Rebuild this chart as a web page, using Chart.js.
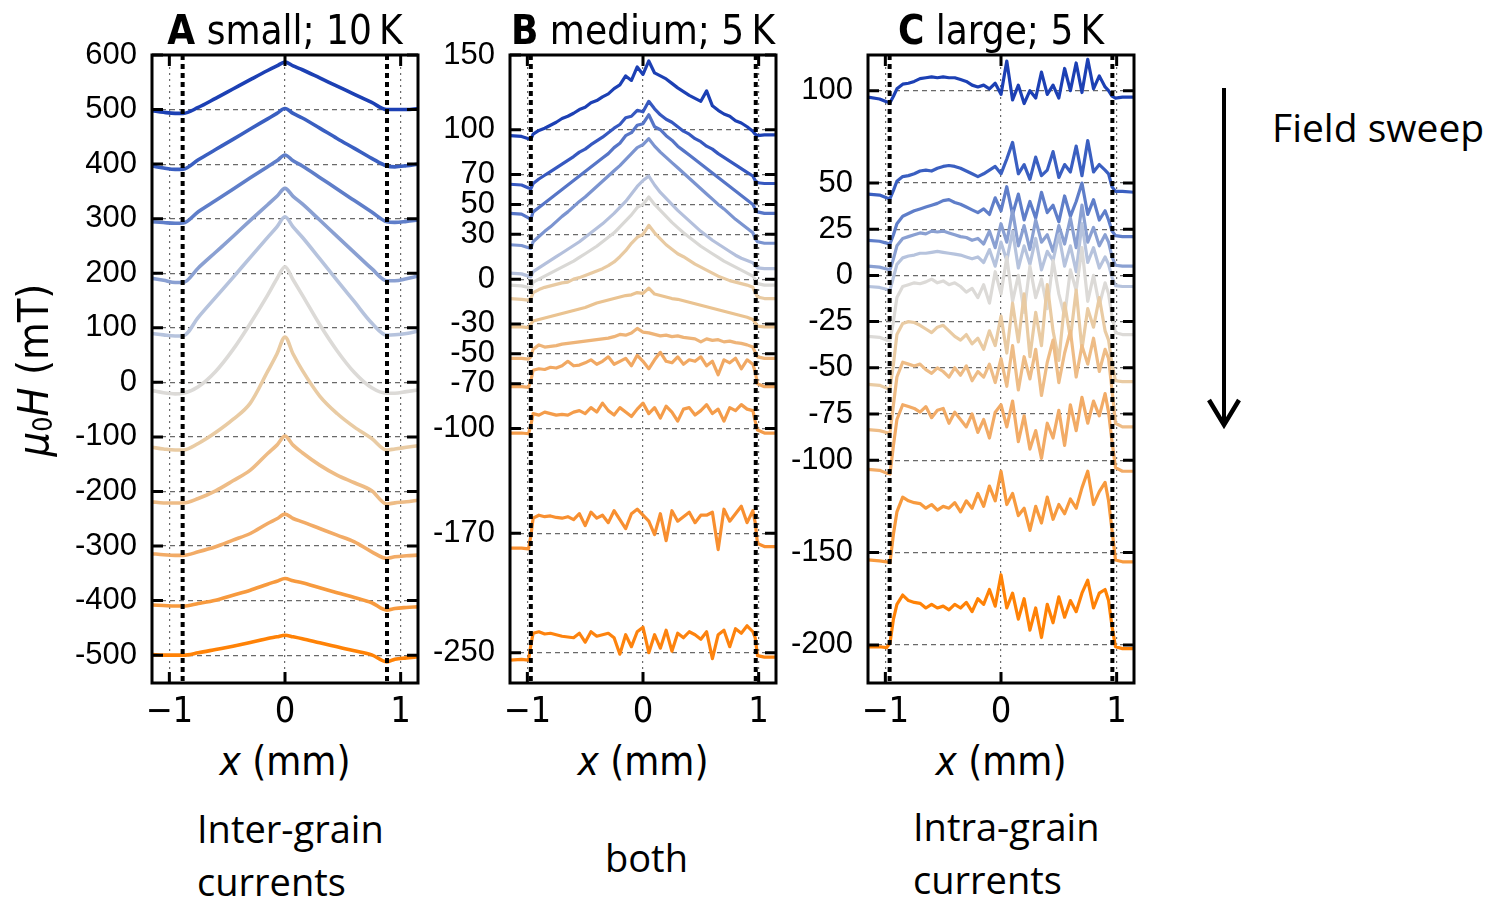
<!DOCTYPE html>
<html lang="en">
<head>
<meta charset="utf-8">
<title>Field profiles across the sample</title>
<script src="https://cdn.jsdelivr.net/npm/chart.js@4.4.1/dist/chart.umd.min.js"></script>
<style>
  html, body { margin: 0; padding: 0; background: #fff; }
  body { position: relative; width: 1497px; height: 906px; overflow: hidden; }
  canvas { position: absolute; }
  .t { position: absolute; white-space: nowrap; color: #000; }
  .cm { font-family: 'DejaVu Sans Condensed', 'Liberation Sans Narrow', 'DejaVu Sans', sans-serif; }
  .ttl { font-size: 40px; line-height: 40px; top: 10px; width: 320px; text-align: center; }
  .xl { font-size: 40px; line-height: 40px; top: 741px; width: 320px; text-align: center; }
  .note { font-family: 'Open Sans', sans-serif; font-size: 38px; line-height: 53px; }
  #ylab { left: 38px; top: 370px; font-size: 43px; line-height: 43px; transform: translate(-50%, -50%) rotate(-90deg); }
  #ylab sub { font-size: 0.62em; vertical-align: -0.18em; font-style: normal; }
</style>
</head>
<body>

<canvas id="pA" width="380" height="718" style="left:52px;top:15px"></canvas>
<canvas id="pB" width="380" height="718" style="left:410px;top:15px"></canvas>
<canvas id="pC" width="380" height="718" style="left:768px;top:15px"></canvas>

<div class="t cm ttl" style="left:125px"><b>A</b> small; 10&thinsp;K</div>
<div class="t cm ttl" style="left:483px"><b>B</b> medium; 5&thinsp;K</div>
<div class="t cm ttl" style="left:841px"><b>C</b> large; 5&thinsp;K</div>

<div class="t cm xl" style="left:125px"><i>x</i> (mm)</div>
<div class="t cm xl" style="left:483px"><i>x</i> (mm)</div>
<div class="t cm xl" style="left:841px"><i>x</i> (mm)</div>

<div class="t cm" id="ylab"><i>μ</i><sub>0</sub><i>H</i> (mT)</div>

<div class="t note" style="left:197px;top:802px">Inter-grain<br>currents</div>
<div class="t note" style="left:605px;top:831px">both</div>
<div class="t note" style="left:913px;top:800px">Intra-grain<br>currents</div>
<div class="t note" style="left:1272px;top:100px;font-size:39px">Field sweep</div>

<svg class="t" style="left:0;top:0" width="1497" height="906">
  <line x1="1224" y1="88" x2="1224" y2="424" stroke="#000" stroke-width="4"/>
  <polyline points="1209,400 1224,425 1239,400" fill="none" stroke="#000" stroke-width="4.5" stroke-linejoin="miter"/>
</svg>

<script>
// ---------- shared axis ticks ----------
const xTicks = [-1, 0, 1];

// ---------- panel A: small grains, 10 K ----------
const xA = [-1.15, -1.05, -0.95, -0.88, -0.75, -0.6, -0.45, -0.3, -0.15, -0.07, 0, 0.07, 0.15, 0.3, 0.45, 0.6, 0.75, 0.88, 0.95, 1.05, 1.15];
const yTicksA = [600, 500, 400, 300, 200, 100, 0, -100, -200, -300, -400, -500];
const a500  = [498, 495, 493, 493, 504, 520.6, 537.7, 554.8, 571.6, 580, 587, 580, 573, 558, 543, 528, 513, 500, 500, 500, 502];
const a400  = [396.5, 393, 390.4, 390.8, 408, 426.7, 445.4, 464.3, 483, 493, 502, 493, 484.5, 466, 447, 428.9, 410.6, 396.5, 395, 397, 400];
const a300  = [294.5, 293, 291.5, 292, 312.8, 333.3, 353.8, 374.8, 395.3, 406, 416.7, 406, 396.5, 375.7, 354.3, 333.2, 312.2, 294.5, 293.2, 295, 297.5];
const a200  = [190.6, 187, 183, 183, 209.7, 238.5, 267.4, 296.9, 325.6, 341, 355.6, 341, 327.1, 297.5, 267.6, 237.9, 208.3, 186.3, 186.3, 190, 194.8];
const a100  = [89.7, 87, 85, 85.4, 119.2, 155.7, 192, 229.2, 265.7, 285, 303.6, 285, 266, 226.7, 186.9, 147.8, 108.7, 86.7, 87.3, 89.7, 94];
const a0    = [-15, -19, -21, -20, -8, 20, 60, 108, 160, 190, 212, 188, 160, 106, 58, 18, -10, -20, -20, -17, -14];
const aM100 = [-119, -122, -124, -124, -112, -92, -68, -38, 20, 52, 83, 52, 22, -25, -57, -82, -103, -124, -122, -119, -116];
const aM200 = [-219, -221, -221, -221, -212.8, -198.8, -180.4, -160.9, -130.3, -115, -98.5, -115, -129, -151.7, -170, -184, -198.8, -223, -220.8, -218.9, -215.9];
const aM300 = [-314, -316, -317, -317, -310.6, -301.4, -289.2, -277, -258.6, -250, -241.5, -249.5, -255.6, -267.8, -280, -292.3, -310.6, -322.8, -319.7, -317.9, -316.7];
const aM400 = [-408, -409, -410, -410, -405.3, -399.2, -390, -380.9, -369.9, -364.4, -359.5, -363.8, -367.4, -376.6, -385.7, -394.3, -404, -417.5, -414.5, -412.6, -411.4];
const aM500 = [-499, -500, -500, -500, -495.7, -489.6, -483.5, -476.8, -469.5, -466.4, -463.4, -466.4, -470, -477.4, -484.7, -492, -499.4, -512.3, -507.4, -505, -503];
const edgesA = [-0.885, 0.882];

// ---------- panel B: medium grains, 5 K ----------
const xB = [-1.15, -1.05, -0.99, -0.97,
  -0.95, -0.9, -0.85, -0.8, -0.75, -0.7, -0.65, -0.6, -0.55, -0.5, -0.45, -0.4, -0.35, -0.3, -0.25, -0.2, -0.15, -0.1, -0.05,
  0, 0.05, 0.1, 0.15, 0.2, 0.25, 0.3, 0.35, 0.4, 0.45, 0.5, 0.55, 0.6, 0.65, 0.7, 0.75, 0.8, 0.85, 0.9, 0.95,
  0.97, 0.99, 1.05, 1.15];
const yTicksB = [150, 100, 70, 50, 30, 0, -30, -50, -70, -100, -170, -250];
const b100 = [96, 95.5, 94, 93.5,
  97, 99.5, 101, 103, 105, 107.5, 109, 111, 113.5, 115, 118, 119.5, 122, 124, 127.5, 130, 136, 133, 142,
  137, 146, 138, 136, 134, 131, 128, 125.5, 123, 121, 119, 126, 116, 113, 110.5, 109, 106, 104.5, 102, 99,
  97, 96, 96.5, 96.5];
const b70 = [63.5, 63, 61, 60.5,
  64, 67, 69.5, 72, 74.5, 77, 79.5, 82, 85, 87, 90, 92.5, 95, 98, 101, 103.5, 108, 109, 113,
  112, 119, 114, 110, 107, 105, 102, 99, 97, 94, 92, 89, 87, 84, 81.5, 79, 76.5, 74, 71.5, 69,
  66, 64.5, 64, 64];
const b50 = [44, 43.5, 41, 40,
  45, 48, 51, 54, 57, 60, 63, 66, 69, 72, 75, 78, 81, 84, 88, 91, 96, 98, 103,
  104, 110, 102, 100, 96, 93, 89, 86, 83, 80, 77, 74, 71, 68, 65, 62, 59, 56, 53, 50,
  47, 45, 44, 44];
const b30 = [23, 22.5, 21, 20.5,
  25, 28.5, 32, 35, 38.5, 42, 45, 48.5, 52, 55, 58.5, 62, 65.5, 69, 72.5, 76, 80, 84, 88,
  90, 94, 89, 85, 81.5, 78, 74.5, 71, 67.5, 64, 60.5, 57, 53.5, 50, 47, 43.5, 40, 37, 34, 31,
  27, 25, 24, 24];
const b10 = [4, 3.5, 2, 1.5,
  5, 7.5, 10, 12.5, 15, 17.5, 20, 22.5, 25, 28, 31, 34, 37, 40.5, 44, 48, 52, 57, 62,
  66, 69, 63, 58, 54, 50, 46, 42.5, 39, 35.5, 32, 29, 26, 23.5, 21, 18.5, 16, 14, 12.5, 11,
  9, 7.5, 7, 7];
const b0 = [-4, -4.5, -5.5, -6,
  -2, 0, 2, 4, 6, 8, 10, 12, 14.5, 17, 19.5, 22, 25, 28, 31, 35, 39, 43, 48,
  50, 55, 50, 46, 42, 38, 34.5, 31, 28, 25, 22, 19.5, 17, 14.5, 12, 10, 8, 6, 4, 2,
  0, -3, -4, -4];
const bM10 = [-13, -13.5, -14, -13,
  -9, -7, -5.5, -4.5, -3.5, -2.5, -2, 0, 1, 2.5, 4, 5.5, 7, 9, 11.5, 15, 19, 24, 28,
  30, 36, 31, 27, 23, 20, 17, 15, 12.5, 10, 8, 6, 4, 2, 0.5, -1, -2, -3, -4, -5.5,
  -9, -12, -13, -13];
const bM30 = [-32, -32, -32.5, -30,
  -28, -27, -26, -25, -24, -23, -22, -21, -20, -19, -17.5, -16, -15, -14, -13, -12, -11, -10.5, -9,
  -9.5, -6, -10, -11, -12, -13, -13.5, -14.5, -15.5, -16.5, -17.5, -18.5, -19.5, -20.5, -21.5, -22.5, -23.5, -24.5, -25.5, -27,
  -29, -31.5, -32, -32];
const bM50 = [-53, -53, -53.5, -52,
  -47, -44, -45.5, -45, -44.5, -43.5, -43, -42.5, -42, -41.5, -41, -40.5, -40, -39.5, -38.5, -37, -37.5, -36, -33,
  -35.5, -36, -37, -38, -37.5, -38.5, -38, -39, -39.5, -40, -42, -40, -41, -40.5, -42, -41.5, -42.5, -43, -44, -45.5,
  -49, -52, -53, -53];
const bM70 = [-72, -72, -72.5, -68,
  -61, -60, -60.5, -59, -59.5, -58, -55, -58, -57.5, -56, -54, -57, -55, -52, -57, -55, -53, -58, -51,
  -55, -60, -54, -49, -55, -56, -52, -57, -54, -55, -52, -58, -55, -64, -54, -56, -53, -60, -54, -57,
  -62, -70, -72, -72];
const bM100 = [-103, -103, -103.5, -98,
  -90, -91, -89, -90, -91, -90.5, -91, -89, -88, -90, -86, -89, -83, -88, -91, -86, -89, -92, -87,
  -83, -90, -86, -93, -85, -89, -95, -87, -86, -91, -88, -84, -90, -87, -95, -86, -88, -84, -87, -88,
  -95, -101, -103, -103];
const bM170 = [-180, -180, -180.5, -172,
  -160, -158, -159, -158.5, -159.5, -160, -159, -161, -157, -165, -156, -160, -158, -163, -155, -161, -167, -157, -154,
  -158, -162, -171, -157, -175, -155, -162, -159, -156, -163, -158, -158, -156, -181, -154, -162, -157, -152, -163, -155,
  -163, -177, -179, -179];
const bM250 = [-255, -254.5, -255, -245,
  -237, -236, -237.5, -237, -238, -239, -239.5, -240, -237, -243, -236, -239, -238, -237, -240, -251, -238, -246, -236,
  -233, -250, -238, -247, -235, -249, -237, -240, -236, -238, -241, -236, -254, -238, -235, -246, -234, -237, -232, -236,
  -240, -252, -253, -253];
const edgesB = [-0.97, 0.975];

// ---------- panel C: large grains, 5 K ----------
const xC = [-1.15, -1.05, -0.99, -0.96, -0.93,
  -0.9, -0.85, -0.8, -0.75, -0.7, -0.65, -0.6, -0.55, -0.5, -0.45, -0.4, -0.35, -0.3, -0.25, -0.2, -0.15, -0.1, -0.05,
  0, 0.05, 0.1, 0.15, 0.2, 0.25, 0.3, 0.35, 0.4, 0.45, 0.5, 0.55, 0.6, 0.65, 0.7, 0.75, 0.8, 0.85, 0.9,
  0.93, 0.96, 0.99, 1.05, 1.15];
const yTicksC = [100, 50, 25, 0, -25, -50, -75, -100, -150, -200];
const c100 = [96.5, 95.5, 94, 93.5, 97,
  101, 103.5, 104, 105, 106.5, 107, 107.5, 107, 107.5, 107, 107, 106, 105, 103, 102, 103, 101, 104,
  98, 116, 95, 103, 93, 100, 96, 110, 98, 103, 96, 112, 100, 115, 99, 117, 101, 108, 102,
  100, 97, 96, 96.5, 96.5];
const c50 = [44, 43.5, 42, 41.5, 46,
  51, 53.5, 54, 55, 56.5, 57, 56.5, 58, 59, 59.5, 59, 58, 56.5, 55, 53.5, 55, 57, 59,
  55, 63, 72, 55, 60, 52, 64, 54, 57, 67, 53, 60, 56, 70, 54, 73, 56, 60, 57,
  55, 48, 45.5, 45.5, 45];
const c25 = [19, 18.5, 17.5, 17, 22,
  28, 32, 33.5, 35, 36, 37, 38, 39, 40.5, 41, 39.5, 38.5, 37, 35.5, 34, 36, 33, 42,
  35, 48, 33, 44, 30, 40, 31, 45, 34, 38, 29, 43, 32, 40, 50, 33, 41, 30, 35,
  30, 24, 21.5, 21, 21];
const c10 = [5, 4.5, 3.5, 3, 9,
  16, 20, 21, 22, 23, 22.5, 24, 23.5, 24, 23, 22, 21, 20.5, 19, 20, 17, 24, 15,
  28, 18, 35, 16, 27, 14, 30, 18, 22, 13, 27, 17, 31, 15, 38, 18, 26, 16, 22,
  18, 10, 5.5, 5, 5];
const c0 = [-6, -6.5, -7.5, -8, -1,
  6, 9.5, 10.5, 11, 12, 12, 12.5, 13, 12.5, 12, 11.5, 11, 10, 9, 10, 7, 14, 5,
  18, 8, 24, 4, 16, 6, 20, 3, 13, 8, 22, 5, 16, 2, 28, 7, 15, 4, 10,
  6, -1, -5.5, -6, -6];
const cM25 = [-33, -33.5, -35, -35.5, -25,
  -12, -6, -5, -4, -4.5, -3.5, -2, -4, -3, -5, -4, -6, -9, -7, -12, -5, -15, 2,
  -10, 10, -14, 0, -20, 5, -12, -2, -18, 8, -10, -22, 3, -8, 15, -14, 0, -16, -4,
  -10, -22, -31, -32, -32];
const cM50 = [-59, -59.5, -61, -61.5, -48,
  -32, -26, -25, -25.5, -27, -29, -31, -28, -27, -30, -33, -35, -32, -37, -34, -40, -30, -38,
  -22, -42, -15, -36, -10, -44, -20, -38, -5, -30, -46, -15, -34, -8, -40, -18, -28, -12, -30,
  -35, -48, -57, -57.5, -57.5];
const cM75 = [-83.5, -84, -85, -85.5, -70,
  -55, -47, -48, -49, -48, -51, -53, -50, -52, -55, -50, -54, -49, -57, -52, -55, -48, -58,
  -45, -60, -38, -62, -44, -56, -40, -65, -47, -35, -58, -42, -30, -55, -38, -48, -34, -52, -40,
  -45, -62, -80, -82, -82];
const cM100 = [-105, -105.5, -107, -107.5, -92,
  -78, -70, -71, -72, -74, -71, -77, -73, -72, -80, -74, -78, -82, -75, -85, -78, -88, -74,
  -70, -82, -68, -90, -76, -94, -84, -99, -80, -88, -73, -92, -70, -84, -66, -80, -68, -76, -64,
  -74, -90, -104, -106, -106];
const cM150 = [-154, -154.5, -155, -155.5, -140,
  -128, -120, -122, -123, -123.5, -126, -124, -127, -125, -126, -123, -128, -122, -126, -118, -125, -114, -122,
  -106, -124, -118, -130, -126, -138, -125, -134, -120, -132, -124, -129, -121, -126, -115, -106, -124, -117, -112,
  -122, -138, -154, -155, -155];
const cM200 = [-201, -201, -201.5, -199, -186,
  -178, -173, -176, -177, -177.5, -180, -178, -180, -179, -181, -178, -180, -177, -182, -175, -178, -170, -179,
  -162, -180, -172, -186, -175, -192, -180, -196, -178, -188, -174, -185, -176, -182, -172, -165, -180, -172, -170,
  -176, -190, -201, -202, -202];
const edgesC = [-0.963, 0.963];

// ---------- colours: sweep from high field (blue) to low field (orange) ----------
const colors11 = ['#1c40b4', '#3a5fc1', '#5f7ec9', '#8aa0d2', '#b6c3dd', '#dcdad7', '#e9cba3', '#eebc86', '#f2ab66', '#f79a3e', '#ff8206'];
const colors13 = ['#1c40b4', '#3658c0', '#5675c7', '#7b94d0', '#b4c0dc', '#d9d8d5', '#e8caa2', '#eac391', '#eeb478', '#f1a862', '#f49c4a', '#f88f30', '#fd830e'];

// ---------- frame, inner tick marks and sample-edge markers ----------
const framePlugin = {
  id: 'frame',
  afterDatasetsDraw(chart, args, opts) {
    const { ctx, chartArea: a, scales: { x, y } } = chart;
    ctx.save();
    ctx.strokeStyle = '#000';
    // sample edges: heavy dotted verticals
    ctx.lineWidth = 4;
    ctx.setLineDash([5, 4]);
    (opts.edges || []).forEach(v => {
      const px = x.getPixelForValue(v);
      ctx.beginPath(); ctx.moveTo(px, a.top); ctx.lineTo(px, a.bottom); ctx.stroke();
    });
    ctx.setLineDash([]);
    // inward ticks on all four sides
    ctx.lineWidth = 3;
    const L = 11;
    y.ticks.forEach(t => {
      const py = y.getPixelForValue(t.value);
      ctx.beginPath();
      ctx.moveTo(a.left, py); ctx.lineTo(a.left + L, py);
      ctx.moveTo(a.right - L, py); ctx.lineTo(a.right, py);
      ctx.stroke();
    });
    x.ticks.forEach(t => {
      const px = x.getPixelForValue(t.value);
      ctx.beginPath();
      ctx.moveTo(px, a.bottom); ctx.lineTo(px, a.bottom - L);
      ctx.moveTo(px, a.top); ctx.lineTo(px, a.top + L);
      ctx.stroke();
    });
    // box
    ctx.lineWidth = 3;
    ctx.strokeRect(a.left, a.top, a.right - a.left, a.bottom - a.top);
    ctx.restore();
  }
};

const tickFontY = { family: "'Liberation Sans', Arial, sans-serif", size: 31 };
const tickFontX = { family: "'Liberation Sans Narrow', 'DejaVu Sans Condensed', sans-serif", size: 36 };

function makePanel(id, xs, series, colors, yMin, yMax, yTicks, edges, smooth, lw) {
  const n = series.length;
  const datasets = series.map((vals, i) => ({
    data: xs.map((x, k) => ({ x: x, y: vals[k] })),
    borderColor: colors[i],
    borderWidth: lw,
    pointRadius: 0,
    fill: false,
    tension: 0,
    cubicInterpolationMode: smooth ? 'monotone' : 'default',
    borderJoinStyle: 'round',
    order: n - i
  }));
  return new Chart(document.getElementById(id), {
    type: 'line',
    data: { datasets },
    plugins: [framePlugin],
    options: {
      responsive: false,
      animation: false,
      devicePixelRatio: 1,
      layout: { padding: { top: 40, right: 14, bottom: 0, left: 0 } },
      plugins: { legend: { display: false }, tooltip: { enabled: false }, frame: { edges } },
      scales: {
        x: {
          type: 'linear', min: -1.15, max: 1.15,
          afterBuildTicks: s => { s.ticks = xTicks.map(v => ({ value: v })); },
          afterFit: s => { s.height = 50; },
          ticks: {
            autoSkip: false, maxRotation: 0, padding: 8, color: '#000', font: tickFontX,
            callback: v => (v < 0 ? '\u2212' + Math.abs(v) : String(v))
          },
          grid: { color: 'rgba(80,80,80,0.85)', lineWidth: 1.2, drawTicks: false },
          border: { display: false, dash: [2, 4] }
        },
        y: {
          type: 'linear', min: yMin, max: yMax,
          afterBuildTicks: s => { s.ticks = yTicks.map(v => ({ value: v })); },
          afterFit: s => { s.width = 100; },
          ticks: {
            autoSkip: false, padding: 15, color: '#000', font: tickFontY,
            callback: v => String(v)
          },
          grid: { color: 'rgba(80,80,80,0.85)', lineWidth: 1.2, drawTicks: false },
          border: { display: false, dash: [5, 4] }
        }
      }
    }
  });
}

makePanel('pA', xA, [a500, a400, a300, a200, a100, a0, aM100, aM200, aM300, aM400, aM500],
  colors11, -551, 600, yTicksA, edgesA, true, 3.6);
makePanel('pB', xB, [b100, b70, b50, b30, b10, b0, bM10, bM30, bM50, bM70, bM100, bM170, bM250],
  colors13, -270.3, 150, yTicksB, edgesB, false, 3.2);
makePanel('pC', xC, [c100, c50, c25, c10, c0, cM25, cM50, cM75, cM100, cM150, cM200],
  colors11, -220.6, 119.3, yTicksC, edgesC, false, 3.2);
</script>
</body>
</html>
